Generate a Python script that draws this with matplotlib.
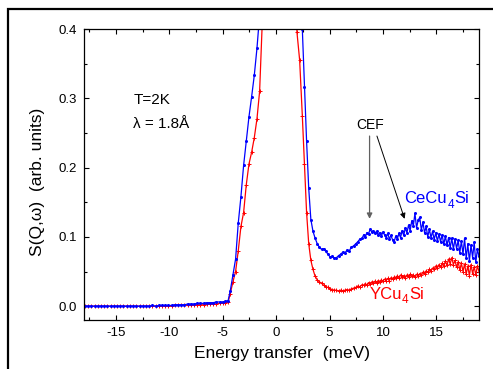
import matplotlib
matplotlib.use('Agg')
import matplotlib.pyplot as plt
from matplotlib.patches import Rectangle
from matplotlib.ticker import MultipleLocator, FormatStrFormatter

plt.rcParams['font.family'] = ['Liberation Sans', 'DejaVu Sans']
plt.rcParams['axes.unicode_minus'] = False

# Energy channels (meV): elastic-gain side, around the elastic line, energy-loss side
energy_neg = [-17.9, -17.6, -17.3, -17.0, -16.7, -16.4, -16.1, -15.8, -15.5, -15.2,
              -14.9, -14.6, -14.3, -14.0, -13.7, -13.4, -13.1, -12.8, -12.5, -12.2,
              -11.9, -11.6, -11.3, -11.0, -10.7, -10.4, -10.1, -9.8, -9.5, -9.2,
              -8.9, -8.6, -8.3, -8.0, -7.7, -7.4, -7.1, -6.8, -6.5, -6.2,
              -5.9, -5.6, -5.3, -5.0, -4.75, -4.5]
energy_mid = [-4.3, -4.05, -3.8, -3.55, -3.3, -3.05, -2.8, -2.55, -2.3, -2.05,
              -1.8, -1.55, -1.3, -1.05, -0.8, -0.55, -0.3, -0.05, 0.2, 0.45,
              0.7, 0.95, 1.2, 1.45, 1.7, 1.95, 2.2, 2.45, 2.65, 2.85, 3.05]
energy_pos = [3.25, 3.45, 3.65, 3.85, 4.05, 4.25, 4.45, 4.65, 4.85, 5.05,
              5.25, 5.45, 5.65, 5.85, 6.05, 6.25, 6.45, 6.65, 6.85, 7.05,
              7.25, 7.45, 7.65, 7.85, 8.05,
              8.2, 8.35, 8.5, 8.65, 8.8, 8.95, 9.1, 9.25, 9.4, 9.55,
              9.7, 9.85, 10.0, 10.15, 10.3, 10.45, 10.6, 10.75, 10.9, 11.05,
              11.2, 11.35, 11.5, 11.65, 11.8, 11.95, 12.1, 12.25, 12.4, 12.55,
              12.7, 12.85, 13.0, 13.15, 13.3, 13.45, 13.6, 13.75, 13.9, 14.05,
              14.2, 14.35, 14.5, 14.65, 14.8, 14.95, 15.1, 15.25, 15.4, 15.55,
              15.7, 15.85, 16.0, 16.15, 16.3, 16.45, 16.6, 16.75, 16.9, 17.05,
              17.2, 17.35, 17.5, 17.65, 17.8, 17.95, 18.1, 18.25, 18.4, 18.55,
              18.7, 18.85, 19.0]

# CeCu4Si
cecu_neg = [0.000, 0.000, 0.000, 0.000, 0.000, 0.000, 0.000, 0.000, 0.000, 0.000,
            0.000, 0.000, 0.000, 0.000, 0.000, 0.000, 0.000, 0.000, 0.000, 0.000,
            0.000, 0.001, 0.000, 0.001, 0.001, 0.001, 0.001, 0.001, 0.002, 0.002,
            0.002, 0.002, 0.003, 0.003, 0.003, 0.004, 0.004, 0.004, 0.005, 0.005,
            0.005, 0.006, 0.006, 0.006, 0.007, 0.008]
cecu_mid = [0.022, 0.045, 0.068, 0.120, 0.158, 0.203, 0.238, 0.273, 0.302, 0.333,
            0.372, 0.420, 0.500, 0.600, 0.900, 1.300, 1.700, 1.900, 1.900, 1.700,
            1.400, 1.100, 0.850, 0.700, 0.580, 0.500, 0.450, 0.400, 0.317, 0.238,
            0.170]
cecu_pos = [0.125, 0.108, 0.098, 0.090, 0.085, 0.082, 0.083, 0.079, 0.075, 0.071,
            0.072, 0.069, 0.070, 0.073, 0.075, 0.078, 0.077, 0.081, 0.080, 0.085,
            0.087, 0.090, 0.093, 0.097, 0.098,
            0.103, 0.100, 0.106, 0.104, 0.111, 0.107, 0.109, 0.105, 0.108, 0.103,
            0.106, 0.101, 0.107, 0.103, 0.099, 0.105, 0.097, 0.102, 0.096, 0.093,
            0.101, 0.097, 0.105, 0.099, 0.109, 0.102, 0.113, 0.106, 0.117, 0.109,
            0.123, 0.116, 0.134, 0.113, 0.124, 0.128, 0.110, 0.121, 0.106, 0.115,
            0.100, 0.111, 0.099, 0.108, 0.096, 0.106, 0.094, 0.104, 0.093, 0.103,
            0.089, 0.101, 0.088, 0.099, 0.084, 0.098, 0.082, 0.097, 0.083, 0.095,
            0.077, 0.094, 0.075, 0.098, 0.069, 0.090, 0.065, 0.088, 0.070, 0.092,
            0.063, 0.082, 0.072]

# YCu4Si
ycu_neg = [0.000, 0.000, 0.000, 0.000, 0.000, 0.000, 0.000, 0.000, 0.000, 0.000,
           0.000, 0.000, 0.000, 0.000, 0.000, 0.000, 0.000, 0.000, 0.000, 0.000,
           0.000, 0.000, 0.000, 0.000, 0.000, 0.000, 0.000, 0.000, 0.001, 0.001,
           0.001, 0.001, 0.001, 0.001, 0.002, 0.002, 0.002, 0.002, 0.003, 0.003,
           0.003, 0.003, 0.004, 0.004, 0.005, 0.006]
ycu_mid = [0.018, 0.035, 0.050, 0.080, 0.115, 0.135, 0.175, 0.205, 0.222, 0.243,
           0.270, 0.310, 0.410, 0.550, 0.800, 1.200, 1.600, 1.800, 1.800, 1.600,
           1.200, 0.900, 0.700, 0.550, 0.470, 0.395, 0.355, 0.275, 0.205, 0.135,
           0.090]
ycu_pos = [0.066, 0.053, 0.043, 0.038, 0.035, 0.033, 0.030, 0.028, 0.027, 0.025,
           0.024, 0.023, 0.023, 0.022, 0.023, 0.022, 0.023, 0.024, 0.023, 0.025,
           0.026, 0.027, 0.029, 0.028, 0.031,
           0.030, 0.032, 0.031, 0.034, 0.032, 0.035, 0.033, 0.036, 0.034, 0.037,
           0.035, 0.038, 0.036, 0.039, 0.037, 0.040, 0.037, 0.041, 0.039, 0.042,
           0.040, 0.044, 0.041, 0.045, 0.042, 0.044, 0.041, 0.045, 0.042, 0.046,
           0.043, 0.045, 0.042, 0.046, 0.044, 0.047, 0.045, 0.049, 0.047, 0.051,
           0.049, 0.053, 0.051, 0.055, 0.053, 0.058, 0.055, 0.060, 0.056, 0.062,
           0.058, 0.065, 0.059, 0.068, 0.061, 0.070, 0.060, 0.066, 0.056, 0.064,
           0.052, 0.062, 0.050, 0.061, 0.046, 0.058, 0.044, 0.060, 0.047, 0.057,
           0.045, 0.058, 0.050]

energy = energy_neg + energy_mid + energy_pos
cecu = cecu_neg + cecu_mid + cecu_pos
ycu = ycu_neg + ycu_mid + ycu_pos

fig = plt.figure(figsize=(4.93, 3.69), dpi=100)
ax = fig.add_axes([84 / 493, 49 / 369, 395 / 493, 291 / 369])

ax.plot(energy, ycu, color='#ff0000', lw=0.9, marker='+', ms=3.5, mew=0.7)
ax.plot(energy, cecu, color='#0000ff', lw=0.9, marker='o', ms=2.2, mew=0)

ax.set_xlim(-18, 19)
ax.set_ylim(-0.02, 0.4)
ax.xaxis.set_major_locator(MultipleLocator(5))
ax.xaxis.set_minor_locator(MultipleLocator(2.5))
ax.yaxis.set_major_locator(MultipleLocator(0.1))
ax.yaxis.set_minor_locator(MultipleLocator(0.05))
ax.yaxis.set_major_formatter(FormatStrFormatter('%.1f'))
ax.tick_params(which='both', direction='in', top=True, right=True, labelsize=9.5, width=0.8)
ax.tick_params(which='major', length=3.5)
ax.tick_params(which='minor', length=2)
ax.tick_params(axis='x', pad=5)
ax.tick_params(axis='y', pad=5)
for sp in ax.spines.values():
    sp.set_linewidth(0.9)

ax.set_xlabel('Energy transfer  (meV)', fontsize=12.5, labelpad=5)
ax.set_ylabel('S(Q,\u03c9)  (arb. units)', fontsize=12.5)
ax.yaxis.set_label_coords(-0.098, 0.474)

ax.text(-13.37, 0.292, 'T=2K', fontsize=11)
ax.text(-13.37, 0.2575, '\u03bb = 1.8\u00c5', fontsize=11)
ax.text(7.5, 0.255, 'CEF', fontsize=10)
ax.annotate('', xy=(8.75, 0.126), xytext=(8.75, 0.2455),
            arrowprops=dict(arrowstyle='-|>', lw=0.9, color='#606060',
                            mutation_scale=8, shrinkA=0, shrinkB=0))
ax.annotate('', xy=(12.03, 0.126), xytext=(9.44, 0.2455),
            arrowprops=dict(arrowstyle='-|>', lw=0.7, color='black',
                            mutation_scale=8, shrinkA=0, shrinkB=0))

# sample labels with a real subscript (head, sub, tail drawn side by side)
renderer = fig.canvas.get_renderer()


def chem_label(x, y, head, sub, tail, color):
    t1 = ax.text(x, y, head, fontsize=12, color=color)
    w1 = t1.get_window_extent(renderer).width * 72 / fig.dpi
    t2 = ax.annotate(sub, (x, y), xytext=(w1 + 0.2, -3.5), textcoords='offset points',
                     fontsize=8.5, color=color)
    w2 = t2.get_window_extent(renderer).width * 72 / fig.dpi
    ax.annotate(tail, (x, y), xytext=(w1 + w2 + 0.4, 0), textcoords='offset points',
                fontsize=12, color=color)


chem_label(12.03, 0.149, 'CeCu', '4', 'Si', '#0000ff')
chem_label(8.72, 0.011, 'YCu', '4', 'Si', '#ff0000')

# outer frame of the original figure (only left and top edges visible)
fig.patches.append(Rectangle((7.5 / 493, -0.2), 2, 1.2 - 8.5 / 369, fill=False,
                             lw=1.6, edgecolor='black', transform=fig.transFigure))

fig.savefig('out.png', dpi=100)
